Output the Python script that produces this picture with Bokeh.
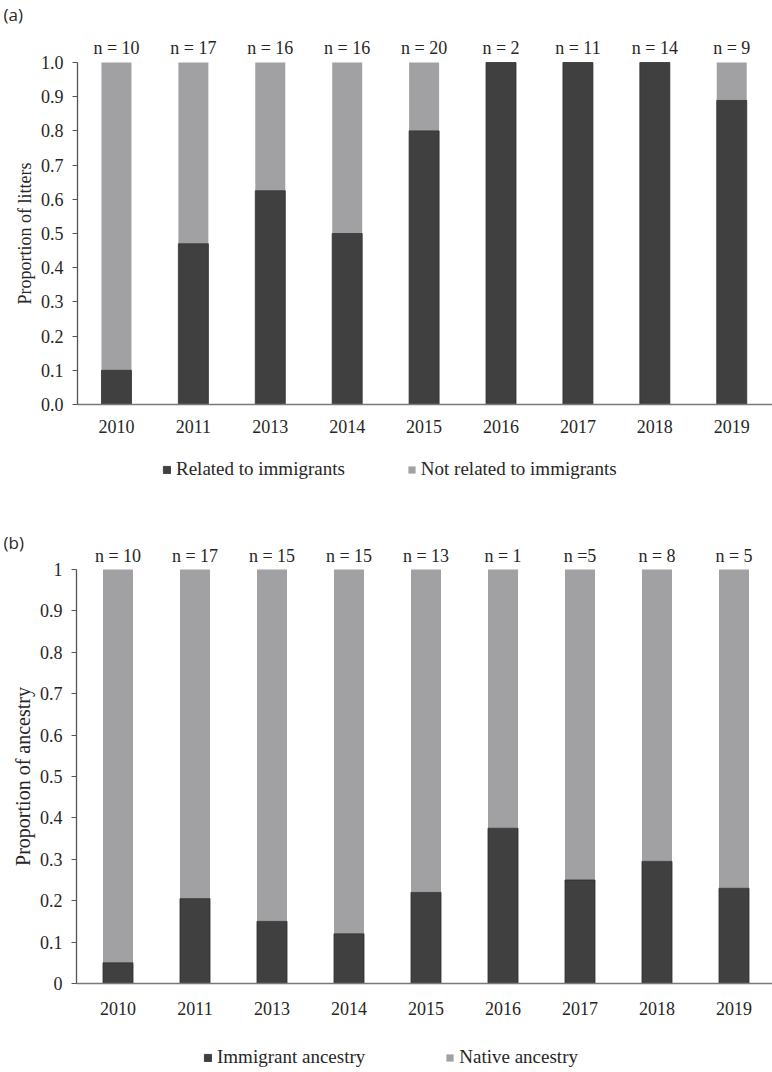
import numpy as np
from bokeh.plotting import figure
from bokeh.models import (ColumnDataSource, Range1d, FixedTicker, NumeralTickFormatter,
                          Legend, LegendItem, Label)
from bokeh.core.properties import value
from bokeh.layouts import column
from bokeh.embed import file_html
from bokeh.resources import INLINE

years = ["2010", "2011", "2013", "2014", "2015", "2016", "2017", "2018", "2019"]

# Panel (a): proportion of litters related to immigrants, with sample sizes
n_a_labels = ["n = 10", "n = 17", "n = 16", "n = 16", "n = 20", "n = 2", "n = 11", "n = 14", "n = 9"]
related = [0.10, 0.47, 0.625, 0.50, 0.80, 1.0, 1.0, 1.0, 0.889]

# Panel (b): proportion of immigrant ancestry, with sample sizes
n_b_labels = ["n = 10", "n = 17", "n = 15", "n = 15", "n = 13", "n = 1", "n =5", "n = 8", "n = 5"]
immigrant = [0.05, 0.205, 0.15, 0.12, 0.22, 0.375, 0.25, 0.295, 0.23]

DARK = "#404040"
LIGHT = "#a1a1a3"
SERIF = "Liberation Serif"
TXT = "#262626"


def make_panel(tag, dark_vals, n_labels, ylab, dark_name, light_name, fmt, cfg):
    x = np.arange(len(years))
    src = ColumnDataSource(dict(
        x=x, dark=dark_vals, one=[1.0] * len(years),
        lab=n_labels, ylab=[cfg["n_y"]] * len(years),
    ))
    p = figure(width=772, height=cfg["height"], output_backend="svg", toolbar_location=None,
               x_range=Range1d(*cfg["xr"]), y_range=Range1d(*cfg["yr"]),
               min_border=0, min_border_top=0, min_border_bottom=0,
               min_border_left=0, min_border_right=0)
    p.outline_line_color = None
    p.grid.visible = False
    p.background_fill_color = "white"
    p.border_fill_color = "white"

    r_light = p.vbar(x="x", width=0.39, bottom="dark", top="one", source=src,
                     fill_color=LIGHT, line_color=None)
    r_dark = p.vbar(x="x", width=0.39, bottom=0, top="dark", source=src,
                    fill_color=DARK, line_color="#2e2e2e", line_width=0.8)

    p.text(x="x", y="ylab", text="lab", source=src, text_align="center",
           text_baseline="middle", text_font=value(SERIF), text_font_size=cfg["n_size"],
           text_color=TXT)

    # x axis at y = 0
    xa = p.xaxis[0]
    xa.fixed_location = 0
    xa.bounds = (cfg["yaxis_x"], cfg["xr"][1])
    xa.ticker = FixedTicker(ticks=list(x))
    xa.major_label_overrides = {int(i): y for i, y in zip(x, years)}
    xa.major_tick_line_color = None
    xa.minor_tick_line_color = None
    xa.axis_line_color = "#7a7a7a"
    xa.axis_line_width = 1.6
    xa.major_label_text_font = SERIF
    xa.major_label_text_font_size = "18px"
    xa.major_label_text_color = TXT
    xa.major_label_standoff = cfg["x_standoff"]

    # y axis at left edge of the bars
    ya = p.yaxis[0]
    ya.fixed_location = cfg["yaxis_x"]
    ya.bounds = (0, 1)
    ya.ticker = FixedTicker(ticks=[i / 10 for i in range(11)])
    ya.formatter = NumeralTickFormatter(format=fmt)
    ya.minor_tick_line_color = None
    ya.major_tick_out = 5
    ya.major_tick_in = 0
    ya.major_tick_line_color = "#555555"
    ya.axis_line_color = "#555555"
    ya.axis_line_width = 1.3
    ya.major_label_text_font = SERIF
    ya.major_label_text_font_size = "18px"
    ya.major_label_text_color = TXT
    ya.major_label_standoff = 9
    ya.axis_label = ylab
    ya.axis_label_text_font = SERIF
    ya.axis_label_text_font_size = cfg["ylab_size"]
    ya.axis_label_text_font_style = "normal"
    ya.axis_label_text_color = TXT
    ya.axis_label_standoff = 3

    legend = Legend(items=[LegendItem(label=dark_name, renderers=[r_dark]),
                           LegendItem(label=light_name, renderers=[r_light])],
                    orientation="horizontal", location=cfg["legend_loc"],
                    label_text_font=SERIF, label_text_font_size="19px",
                    label_text_color=TXT,
                    glyph_width=9, glyph_height=9, spacing=cfg["legend_spacing"],
                    border_line_color=None, background_fill_alpha=0,
                    margin=0, padding=0, label_standoff=5)
    p.add_layout(legend)

    p.add_layout(Label(x=cfg["tag_x"], y=cfg["tag_y"], text=tag,
                       text_font="Open Sans", text_font_size="17px",
                       text_baseline="middle", text_align="left", text_color=TXT))
    return p


cfg_a = dict(height=525, xr=(-1.508, 8.53), yr=(-0.3538, 1.1813), yaxis_x=-0.507,
             n_y=1.041, n_size="18px", ylab_size="18px", legend_loc=(162, 45),
             legend_spacing=62, tag_x=-1.469, tag_y=1.1418, x_standoff=9)
cfg_b = dict(height=545, xr=(-1.526, 8.5), yr=(-0.2101, 1.1063), yaxis_x=-0.539,
             n_y=1.0338, n_size="18px", ylab_size="20px", legend_loc=(203, 2),
             legend_spacing=80, tag_x=-1.487, tag_y=1.0652, x_standoff=12)

pa = make_panel("(a)", related, n_a_labels, "Proportion of litters",
                "Related to immigrants", "Not related to immigrants", "0.0", cfg_a)
pb = make_panel("(b)", immigrant, n_b_labels, "Proportion of ancestry",
                "Immigrant ancestry", "Native ancestry", "0.[0]", cfg_b)

layout = column(pa, pb, spacing=0)
open("out.html", "w").write(file_html(layout, INLINE))
